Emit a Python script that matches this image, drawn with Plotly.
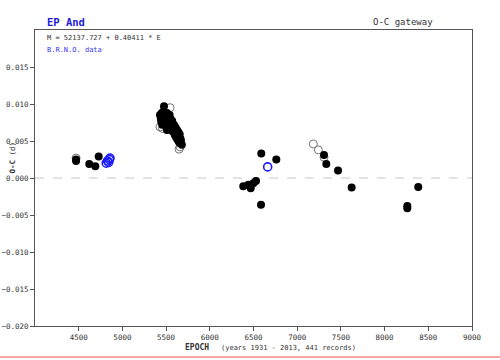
import plotly.graph_objects as go

# Filled (black) points: epoch, O-C
filled_epoch = [4470, 4470, 4621, 4690, 4729,
                5430, 5440, 5445, 5450, 5455, 5460, 5465, 5470, 5476, 5480, 5485, 5490, 5495,
                5500, 5505, 5510, 5515, 5520, 5525, 5530, 5535, 5540, 5545, 5550, 5555, 5560,
                5565, 5570, 5575, 5580, 5585, 5590, 5595, 5600, 5605, 5610, 5615, 5620, 5625,
                5630, 5635, 5640, 5645, 5650, 5655, 5660, 5665, 5670, 5680, 5510,
                6383, 6441, 6468, 6498, 6529, 6586, 6589, 6761,
                7307, 7333, 7467, 7623, 8260, 8260, 8385]
filled_oc = [0.0023, 0.0025, 0.0019, 0.0016, 0.0029,
             0.0085, 0.0080, 0.0076, 0.0088, 0.0072, 0.0083, 0.0079, 0.0090, 0.0097, 0.0086, 0.0081, 0.0076, 0.0071,
             0.0084, 0.0079, 0.0088, 0.0074, 0.0069, 0.0082, 0.0077, 0.0072, 0.0085, 0.0067, 0.0080, 0.0074, 0.0070,
             0.0064, 0.0077, 0.0068, 0.0073, 0.0062, 0.0066, 0.0071, 0.0058, 0.0064, 0.0068, 0.0055, 0.0061, 0.0065,
             0.0052, 0.0058, 0.0062, 0.0049, 0.0055, 0.0059, 0.0047, 0.0053, 0.0050, 0.0045, 0.0065,
             -0.0011, -0.0009, -0.0014, -0.0007, -0.0004, -0.0036, 0.0033, 0.0025,
             0.0031, 0.0019, 0.0010, -0.0013, -0.0038, -0.0041, -0.0012]

# Open (gray) points
open_epoch = [4470, 5430, 5460, 5545, 5648, 5660, 7185, 7242, 7307]
open_oc = [0.0027, 0.0069, 0.0067, 0.0095, 0.0039, 0.0042, 0.0046, 0.0038, 0.0028]

# Blue open points
blue_epoch = [4815, 4830, 4842, 4852, 4858, 6662]
blue_oc = [0.0020, 0.0023, 0.0021, 0.0025, 0.0027, 0.0015]

x_ticks = [4500, 5000, 5500, 6000, 6500, 7000, 7500, 8000, 8500, 9000]
y_ticks = [-0.020, -0.015, -0.010, -0.005, 0.000, 0.005, 0.010, 0.015]

MONO = "DejaVu Sans Mono"
TXT = "#333333"

fig = go.Figure()
fig.add_trace(go.Scatter(x=open_epoch, y=open_oc, mode="markers",
                         marker=dict(symbol="circle-open", size=8, color="#777777", line=dict(width=1))))
fig.add_trace(go.Scatter(x=filled_epoch, y=filled_oc, mode="markers",
                         marker=dict(symbol="circle", size=8, color="black", line=dict(width=0))))
fig.add_trace(go.Scatter(x=blue_epoch, y=blue_oc, mode="markers",
                         marker=dict(symbol="circle-open", size=8, color="#1a1aff", line=dict(width=1.6))))

fig.add_shape(type="line", xref="paper", yref="y", x0=0, x1=1, y0=0, y1=0,
              line=dict(color="#c8c8c8", width=1, dash="dash"), layer="below")
fig.add_shape(type="line", xref="paper", yref="paper", x0=-0.085, x1=1.07, y0=-0.105, y1=-0.105,
              line=dict(color="#f4a8a8", width=2))

fig.update_xaxes(range=[4000, 9000], tickvals=x_ticks, ticks="outside", ticklen=4,
                 tickcolor="#555", showline=True, linecolor="#555", linewidth=1, mirror=True,
                 showgrid=False, zeroline=False, automargin=False,
                 tickfont=dict(family=MONO, size=7.5, color=TXT))
fig.update_yaxes(range=[-0.020, 0.020], tickvals=y_ticks, tickformat=".3f", ticks="outside", ticklen=4,
                 tickcolor="#555", showline=True, linecolor="#555", linewidth=1, mirror=True,
                 showgrid=False, zeroline=False, automargin=False,
                 tickfont=dict(family=MONO, size=7.5, color=TXT))

ann = [
    dict(text="<b>EP And</b>", x=0.023, y=1.027, xanchor="left", yanchor="middle",
         font=dict(family=MONO, size=10.5, color="#2020e0")),
    dict(text="O-C gateway", x=0.915, y=1.027, xanchor="right", yanchor="middle",
         font=dict(family=MONO, size=9, color=TXT)),
    dict(text="M = 52137.727 + 0.40411 * E", x=0.023, y=0.973, xanchor="left", yanchor="middle",
         font=dict(family=MONO, size=7, color=TXT)),
    dict(text="B.R.N.O. data", x=0.023, y=0.932, xanchor="left", yanchor="middle",
         font=dict(family=MONO, size=7, color="#3333ff")),
    dict(text="<b>EPOCH</b>", x=0.338, y=-0.074, xanchor="left", yanchor="middle",
         font=dict(family=MONO, size=8, color=TXT)),
    dict(text="(years 1931 - 2013, 441 records)", x=0.421, y=-0.074, xanchor="left", yanchor="middle",
         font=dict(family=MONO, size=7, color=TXT)),
    dict(text="<b>O-C</b> (d)", x=-0.052, y=0.57, xanchor="center", yanchor="middle", textangle=-90,
         font=dict(family=MONO, size=7.5, color=TXT)),
]
for a in ann:
    a.update(xref="paper", yref="paper", showarrow=False)
    fig.add_annotation(**a)

fig.update_layout(width=500, height=360, margin=dict(l=35, r=28, t=30, b=34),
                  paper_bgcolor="white", plot_bgcolor="white", showlegend=False,
                  hovermode=False)

# remove the default 8px page margin so the figure sits at the window's corner
fig.write_html("out.html", config={"displayModeBar": False},
               post_script="document.body.style.margin='0';")
